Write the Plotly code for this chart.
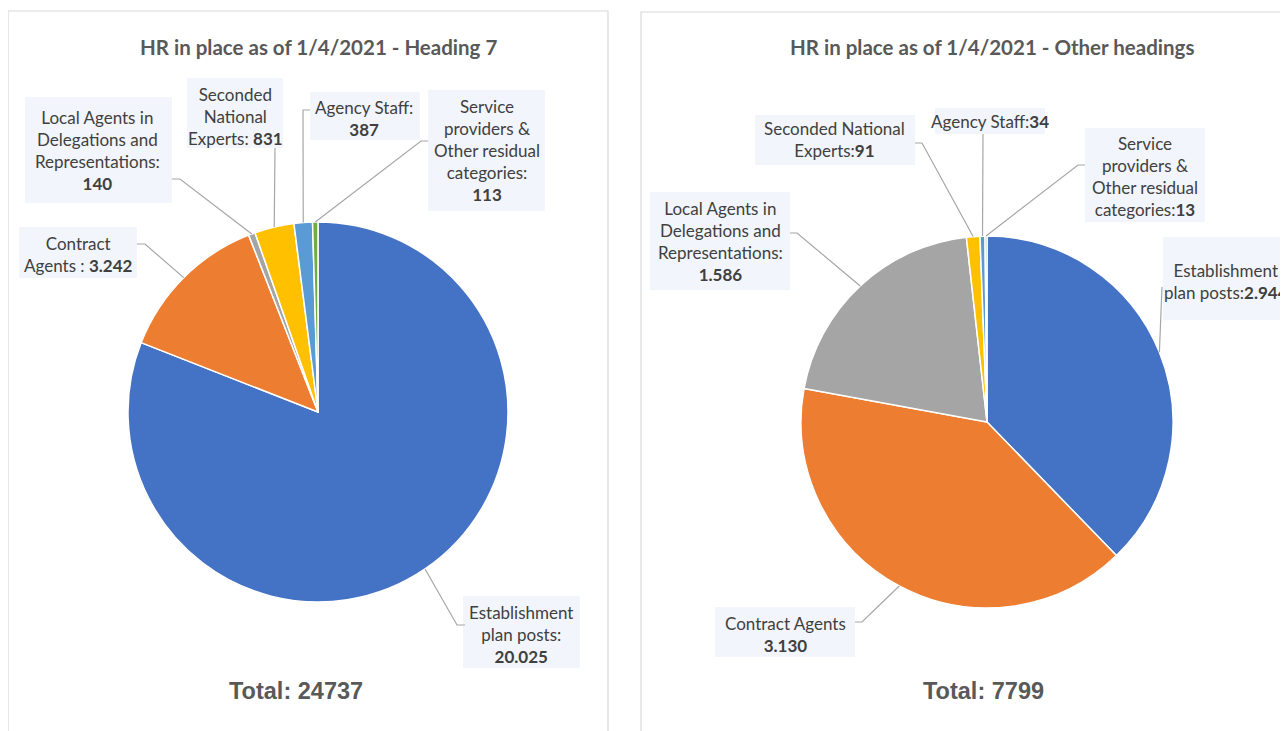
import math
import plotly.graph_objects as go

W, H = 1288, 731
OFF = 8  # page body margin in the browser

# ---------------- data ----------------
categories = ["Establishment plan posts", "Contract Agents",
              "Local Agents in Delegations and Representations",
              "Seconded National Experts", "Agency Staff",
              "Service providers & Other residual categories"]
values_h7 = [20025, 3242, 140, 831, 387, 113]
values_other = [2944, 3130, 1586, 91, 34, 13]
total_h7 = 24737
total_other = 7799
titles = ["HR in place as of 1/4/2021 - Heading 7",
          "HR in place as of 1/4/2021 - Other headings"]
# label prefixes (line breaks as in the picture)
labels_h7 = ["Establishment<br>plan posts:<br>", "Contract<br>Agents : ",
             "Local Agents in<br>Delegations and<br>Representations:<br>",
             "Seconded<br>National<br>Experts: ", "Agency Staff:<br>",
             "Service<br>providers &<br>Other residual<br>categories:<br>"]
labels_other = ["Establishment<br>plan posts:", "Contract Agents<br>",
                "Local Agents in<br>Delegations and<br>Representations:<br>",
                "Seconded National<br>Experts:", "Agency Staff:",
                "Service<br>providers &<br>Other residual<br>categories:"]
colors = ["#4472C4", "#ED7D31", "#A5A5A5", "#FFC000", "#5B9BD5", "#70AD47"]

# ---------------- layout constants (pixels) ----------------
pies = [
    dict(cx=318, cy=412, r=190),
    dict(cx=987, cy=422, r=186),
]
# per label: box (x0,y0,x1,y1), text centre (tx,ty), leader anchor, elbow
label_geo_h7 = [
    dict(box=(463, 596, 580, 668), t=(521, 634), a=(465, 625), e=(457, 625)),
    dict(box=(19, 227, 137, 278), t=(78, 254), a=(137, 244), e=(145, 244)),
    dict(box=(25, 97, 172, 203), t=(98, 150), a=(172, 179), e=(180, 179)),
    dict(box=(187, 78, 283, 148), t=(235, 117), a=(275, 148), e=(275, 148)),
    dict(box=(310, 92, 420, 140), t=(364, 118), a=(310, 110), e=(303, 110)),
    dict(box=(428, 90, 545, 211), t=(487, 151), a=(428, 141), e=(421, 141)),
]
label_geo_other = [
    dict(box=(1163, 237, 1300, 320), t=(1226, 281), a=(1162, 287), e=(1162, 287)),
    dict(box=(715, 607, 855, 657), t=(785, 634), a=(855, 622), e=(862, 622)),
    dict(box=(650, 192, 790, 290), t=(720, 242), a=(790, 233), e=(797, 233)),
    dict(box=(755, 115, 915, 165), t=(835, 139), a=(915, 143), e=(922, 143)),
    dict(box=(935, 108, 1045, 134), t=(990, 121), a=(983, 134), e=(983, 134)),
    dict(box=(1085, 128, 1205, 222), t=(1145, 176), a=(1085, 165), e=(1078, 165)),
]


def px(x):
    return (x - OFF) / W


def py(y):
    return 1 - (y - OFF) / H


def fmt(v):
    return f"{v:,}".replace(",", ".")


fig = go.Figure()
shapes = []
annotations = []

# panels
for (x0, y0, x1, y1) in [(8, 11, 608, 760), (641, 12, 1320, 760)]:
    shapes.append(dict(type="rect", xref="paper", yref="paper",
                       x0=px(x0), x1=px(x1), y0=py(y1), y1=py(y0),
                       line=dict(color="#D9D9D9", width=1.2),
                       fillcolor="white", layer="below"))

sets = [(values_h7, labels_h7, label_geo_h7, total_h7, pies[0], titles[0], 318, 296),
        (values_other, labels_other, label_geo_other, total_other, pies[1], titles[1], 992, 983)]

for vals, labs, geo, total, p, title, title_x, total_x in sets:
    cx, cy, r = p["cx"], p["cy"], p["r"]
    fig.add_trace(go.Pie(
        labels=categories, values=vals, sort=False, direction="clockwise",
        rotation=0, textinfo="none", showlegend=False,
        marker=dict(colors=colors, line=dict(color="white", width=1.5)),
        domain=dict(x=[px(cx - r), px(cx + r)], y=[py(cy + r), py(cy - r)]),
        hovertemplate="%{label}: %{value}<extra></extra>",
    ))
    s = sum(vals)
    cum = 0
    for v, lab, g in zip(vals, labs, geo):
        mid = (cum + v / 2) / s * 2 * math.pi
        cum += v
        ex = cx + r * math.sin(mid)
        ey = cy - r * math.cos(mid)
        bx0, by0, bx1, by1 = g["box"]
        shapes.append(dict(type="rect", xref="paper", yref="paper",
                           x0=px(bx0), x1=px(bx1), y0=py(by1), y1=py(by0),
                           line=dict(width=0), fillcolor="#F2F5FB", layer="below"))
        ax, ay = g["a"]
        elx, ely = g["e"]
        path = f"M {px(ax)},{py(ay)} L {px(elx)},{py(ely)} L {px(ex)},{py(ey)}"
        shapes.append(dict(type="path", xref="paper", yref="paper", path=path,
                           line=dict(color="#A6A6A6", width=1.2)))
        tx, ty = g["t"]
        annotations.append(dict(
            x=px(tx), y=py(ty), xref="paper", yref="paper",
            text=f"{lab}<b>{fmt(v)}</b>", showarrow=False,
            xanchor="center", yanchor="middle", align="center",
            font=dict(family="Lato, Carlito, Calibri, sans-serif", size=17, color="#404040"),
        ))
    # title
    annotations.append(dict(
        x=px(title_x), y=py(47), xref="paper", yref="paper",
        text=f"<b>{title}</b>", showarrow=False, xanchor="center", yanchor="middle",
        font=dict(family="Lato, Carlito, Calibri, sans-serif", size=20.5, color="#595959"),
    ))
    annotations.append(dict(
        x=px(total_x), y=py(691), xref="paper", yref="paper",
        text=f"<b>Total: {total}</b>", showarrow=False, xanchor="center", yanchor="middle",
        font=dict(family="Liberation Sans, Arial, sans-serif", size=23.5, color="#595959"),
    ))

fig.update_layout(
    width=W, height=H, margin=dict(l=0, r=0, t=0, b=0),
    paper_bgcolor="white", plot_bgcolor="white",
    shapes=shapes, annotations=annotations,
)

fig.write_html("out.html")
